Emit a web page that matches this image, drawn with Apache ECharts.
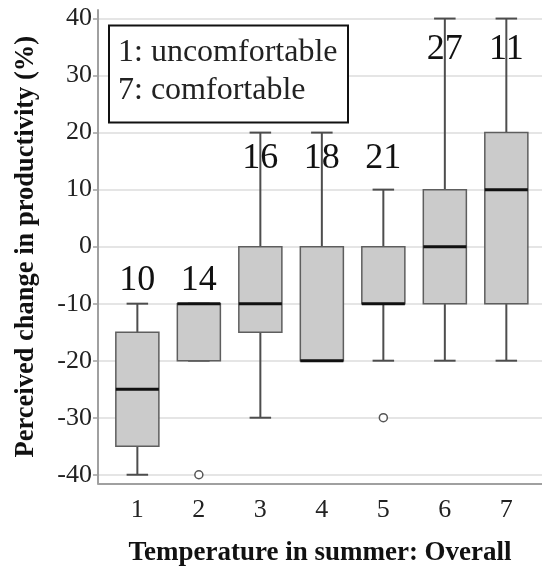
<!DOCTYPE html>
<html>
<head>
<meta charset="utf-8">
<script src="https://cdn.jsdelivr.net/npm/echarts@6/dist/echarts.min.js"></script>
<style>
  html, body { margin: 0; padding: 0; background: #fff; }
  #chart { width: 542px; height: 572px; }
</style>
</head>
<body>
<div id="chart"></div>
<script>
// Comfort rating groups (1 = uncomfortable ... 7 = comfortable)
const categories = ['1', '2', '3', '4', '5', '6', '7'];
// Box-plot statistics of perceived productivity change (%)
const whiskerLow  = [-40, -20, -30, -20, -20, -20, -20];
const q1          = [-35, -20, -15, -20, -10, -10, -10];
const median      = [-25, -10, -10, -20, -10,   0,  10];
const q3          = [-15, -10,   0,   0,   0,  10,  20];
const whiskerHigh = [-10, -10,  20,  20,  10,  40,  40];
// Number of respondents per group
const counts = [10, 14, 16, 18, 21, 27, 11];
// Outliers as [group, value]
const outliers = [[2, -40], [5, -30]];
// Value-axis tick labels
const yTicks = [-40, -30, -20, -10, 0, 10, 20, 30, 40];
// Note box lines
const noteLines = ['1: uncomfortable', '7: comfortable'];

// Vertical anchor (in data units) of each count label
const countLabelAt = [-6, -6, 15.5, 15.5, 15.5, 34.5, 34.5];

const SERIF = 'Liberation Serif';
const groupX = categories.map((c, i) => i + 1);

const boxData = categories.map((c, i) =>
  [groupX[i], whiskerLow[i], q1[i], median[i], q3[i], whiskerHigh[i]]);
const countData = categories.map((c, i) => [groupX[i], countLabelAt[i], counts[i]]);

// Box, whiskers with half-width caps, and a heavy median bar
function renderBox(params, api) {
  const x = api.value(0);
  const lo = api.coord([x, api.value(1)]);
  const b1 = api.coord([x, api.value(2)]);
  const md = api.coord([x, api.value(3)]);
  const b3 = api.coord([x, api.value(4)]);
  const hi = api.coord([x, api.value(5)]);
  const unit = api.size([1, 0])[0];
  const half = unit * 0.35;
  const cap = half / 2;
  const cx = lo[0];
  const wStyle = { stroke: '#4d4d4d', lineWidth: 2 };
  return {
    type: 'group',
    children: [
      { type: 'line', shape: { x1: cx, y1: hi[1], x2: cx, y2: b3[1] }, style: wStyle },
      { type: 'line', shape: { x1: cx, y1: b1[1], x2: cx, y2: lo[1] }, style: wStyle },
      { type: 'line', shape: { x1: cx - cap, y1: hi[1], x2: cx + cap, y2: hi[1] }, style: wStyle },
      { type: 'line', shape: { x1: cx - cap, y1: lo[1], x2: cx + cap, y2: lo[1] }, style: wStyle },
      {
        type: 'rect',
        shape: { x: cx - half, y: b3[1], width: 2 * half, height: b1[1] - b3[1] },
        style: { fill: '#cbcbcb', stroke: '#5e5e5e', lineWidth: 1.5 }
      },
      { type: 'line', shape: { x1: cx - half, y1: md[1], x2: cx + half, y2: md[1] },
        style: { stroke: '#111', lineWidth: 3 } }
    ]
  };
}

// Group size printed above each box
function renderCount(params, api) {
  const p = api.coord([api.value(0), api.value(1)]);
  return {
    type: 'text',
    x: p[0],
    y: p[1],
    style: {
      text: String(api.value(2)),
      fill: '#111',
      fontSize: 36,
      fontFamily: SERIF,
      align: 'center',
      verticalAlign: 'middle'
    }
  };
}

const chart = echarts.init(document.getElementById('chart'), null, { renderer: 'canvas' });

const option = {
  animation: false,
  backgroundColor: '#fff',
  grid: { left: 98, right: 0, top: 10, bottom: 88.7 },
  xAxis: {
    type: 'value',
    min: 0.36,
    max: 7.58,
    axisLine: { show: true, onZero: false, lineStyle: { color: '#a0a0a0', width: 2 } },
    axisTick: { show: false, customValues: groupX },
    axisLabel: {
      customValues: groupX,
      formatter: v => categories[Math.round(v) - 1],
      fontFamily: SERIF, fontSize: 26, color: '#222', margin: 14
    },
    splitLine: { show: false },
    name: 'Temperature in summer: Overall',
    nameLocation: 'middle',
    nameGap: 56,
    nameTextStyle: { fontFamily: SERIF, fontWeight: 'bold', fontSize: 27, color: '#111' }
  },
  yAxis: {
    type: 'value',
    min: -41.5,
    max: 41.5,
    axisLine: { show: true, onZero: false, lineStyle: { color: '#a0a0a0', width: 2 } },
    axisTick: { show: true, customValues: yTicks, length: 5, lineStyle: { color: '#a0a0a0', width: 1.5 } },
    axisLabel: {
      customValues: yTicks,
      fontFamily: SERIF, fontSize: 26, color: '#222', margin: 6
    },
    splitLine: { show: true, lineStyle: { color: '#dcdcdc', width: 1.5 } },
    name: 'Perceived change in productivity (%)',
    nameLocation: 'middle',
    nameGap: 58,
    nameTextStyle: { fontFamily: SERIF, fontWeight: 'bold', fontSize: 26.5, color: '#111' }
  },
  graphic: [
    {
      type: 'rect',
      left: 108,
      top: 24.5,
      shape: { width: 239, height: 97 },
      style: { fill: '#fff', stroke: '#111', lineWidth: 2 },
      z: 10
    },
    {
      type: 'text',
      x: 118,
      y: 52.5,
      style: { text: noteLines[0], fill: '#222', fontSize: 32, fontFamily: SERIF, verticalAlign: 'middle' },
      z: 11
    },
    {
      type: 'text',
      x: 118,
      y: 90.5,
      style: { text: noteLines[1], fill: '#222', fontSize: 32, fontFamily: SERIF, verticalAlign: 'middle' },
      z: 11
    }
  ],
  series: [
    {
      type: 'custom',
      name: 'boxes',
      renderItem: renderBox,
      data: boxData,
      encode: { x: 0, y: [1, 2, 3, 4, 5] },
      z: 3
    },
    {
      type: 'scatter',
      name: 'outliers',
      data: outliers,
      symbol: 'circle',
      symbolSize: 8,
      itemStyle: { color: '#fff', borderColor: '#555', borderWidth: 1.5, opacity: 1 },
      z: 4
    },
    {
      type: 'custom',
      name: 'counts',
      renderItem: renderCount,
      data: countData,
      encode: { x: 0, y: 1 },
      z: 5
    }
  ]
};

chart.setOption(option);
</script>
</body>
</html>
